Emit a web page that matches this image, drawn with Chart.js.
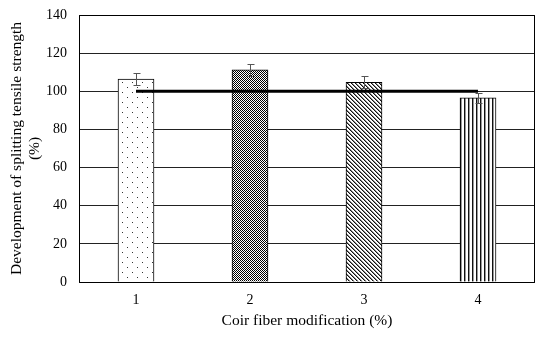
<!DOCTYPE html>
<html>
<head>
<meta charset="utf-8">
<script src="https://cdn.jsdelivr.net/npm/chart.js@4.4.0/dist/chart.umd.min.js"></script>
<style>
  html, body { margin: 0; padding: 0; background: #fff; }
  #wrap { width: 550px; height: 338px; }
</style>
</head>
<body>
<div id="wrap"><canvas id="c" width="550" height="338"></canvas></div>
<script>
const categories = ['1', '2', '3', '4'];
const strengthValues = [106.4, 111.2, 104.7, 96.6];
const strengthErrors = [3.0, 3.0, 3.2, 2.6];
const referenceLine = [100, 100, 100, 100];
const yTicks = [0, 20, 40, 60, 80, 100, 120, 140];

function makePattern(kind) {
  const c = document.createElement('canvas');
  let w = 4, h = 4;
  if (kind === 'dots') { w = 10; h = 10; }
  if (kind === 'checker') { w = 2; h = 2; }
  if (kind === 'diag') { w = 4; h = 4; }
  if (kind === 'vert') { w = 4; h = 1; }
  c.width = w; c.height = h;
  const x = c.getContext('2d');
  x.fillStyle = '#fff';
  x.fillRect(0, 0, w, h);
  if (kind === 'dots') {
    x.fillStyle = '#333';
    x.fillRect(2, 2, 1, 1);
    x.fillRect(7, 7, 1, 1);
  } else if (kind === 'checker') {
    x.fillStyle = '#000';
    x.fillRect(0, 0, 1, 1);
    x.fillRect(1, 1, 1, 1);
  } else if (kind === 'diag') {
    for (let i = 0; i < 4; i++) {
      x.fillStyle = '#111';
      x.fillRect(i, i, 1, 1);
      x.fillStyle = '#888';
      x.fillRect((i + 1) % 4, i, 1, 1);
    }
  } else if (kind === 'vert') {
    x.fillStyle = '#111';
    x.fillRect(0, 0, 1, 1);
    x.fillStyle = '#999';
    x.fillRect(1, 0, 1, 1);
  }
  return document.getElementById('c').getContext('2d').createPattern(c, 'repeat');
}

const patterns = [makePattern('dots'), makePattern('checker'), makePattern('diag'), makePattern('vert')];

const errorBarPlugin = {
  id: 'errorBars',
  afterDatasetsDraw(chart) {
    const ctx = chart.ctx;
    const meta = chart.getDatasetMeta(1);
    const y = chart.scales.y;
    ctx.save();
    ctx.strokeStyle = '#555';
    ctx.lineWidth = 1;
    meta.data.forEach((bar, i) => {
      const v = strengthValues[i], e = strengthErrors[i];
      const x = Math.round(bar.x) + 0.5;
      const yt = Math.round(y.getPixelForValue(v + e)) + 0.5;
      const yb = Math.round(y.getPixelForValue(v - e)) + 0.5;
      ctx.beginPath();
      ctx.moveTo(x, yt); ctx.lineTo(x, yb);
      ctx.moveTo(x - 3, yt); ctx.lineTo(x + 4, yt);
      ctx.moveTo(x - 3, yb); ctx.lineTo(x + 4, yb);
      ctx.stroke();
    });
    ctx.restore();
  }
};

const boxPlugin = {
  id: 'box',
  afterDraw(chart) {
    const a = chart.chartArea;
    const ctx = chart.ctx;
    const l = Math.round(a.left) + 0.5, r = Math.round(a.right) - 0.5;
    const t = Math.round(a.top) + 0.5, b = Math.round(a.bottom) + 0.5;
    ctx.save();
    ctx.strokeStyle = '#000';
    ctx.lineWidth = 1;
    ctx.beginPath();
    ctx.moveTo(l, t); ctx.lineTo(r, t); ctx.lineTo(r, b); ctx.lineTo(l, b); ctx.closePath();
    ctx.stroke();
    ctx.restore();
  }
};

const serif = 'Liberation Serif, Times New Roman, serif';

new Chart(document.getElementById('c'), {
  data: {
    labels: categories,
    datasets: [
      {
        type: 'line',
        data: referenceLine,
        borderColor: '#000',
        borderWidth: 3,
        pointRadius: 0,
        fill: false,
        order: 0
      },
      {
        type: 'bar',
        data: strengthValues,
        backgroundColor: patterns,
        borderColor: '#000',
        borderWidth: 1,
        barThickness: 36,
        order: 1
      }
    ]
  },
  options: {
    responsive: false,
    animation: false,
    devicePixelRatio: 1,
    layout: { padding: { left: 0, right: 15, top: 15, bottom: 0 } },
    plugins: { legend: { display: false }, tooltip: { enabled: false } },
    scales: {
      x: {
        grid: { display: false, drawTicks: false },
        border: { display: false },
        ticks: { color: '#000', font: { family: serif, size: 14 }, padding: 10 },
        title: {
          display: true,
          text: 'Coir fiber modification (%)',
          color: '#000',
          font: { family: serif, size: 15.5 },
          padding: { top: 0, bottom: 8 }
        },
        afterFit(s) { s.height = 56; s.paddingLeft = 0; s.paddingRight = 0; }
      },
      y: {
        min: 0, max: 140,
        afterBuildTicks(s) { s.ticks = yTicks.map(v => ({ value: v })); },
        grid: { color: '#222', lineWidth: 1, drawTicks: false },
        border: { display: false },
        ticks: { color: '#000', font: { family: serif, size: 14 }, padding: 12 },
        title: {
          display: true,
          text: ['Development of splitting tensile strength', '(%)'],
          color: '#000',
          font: { family: serif, size: 15.5, lineHeight: '18px' },
          padding: { top: 8, bottom: 0 }
        },
        afterFit(s) { s.width = 79; s.paddingTop = 0; s.paddingBottom = 0; }
      }
    }
  },
  plugins: [errorBarPlugin, boxPlugin]
});
</script>
</body>
</html>
